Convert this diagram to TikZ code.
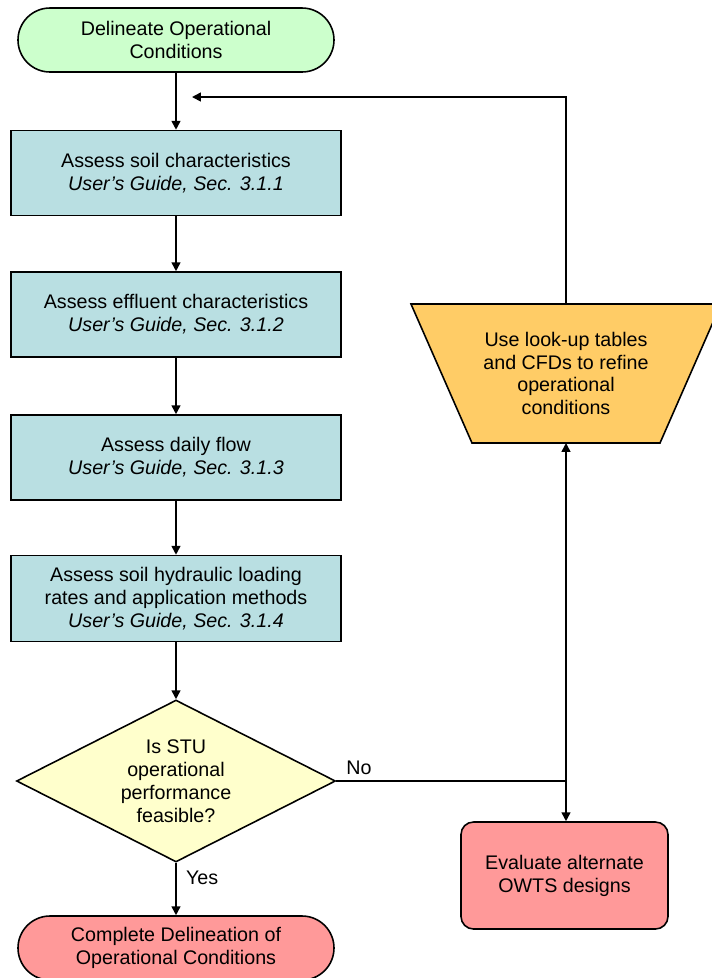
\documentclass[tikz,border=0pt]{standalone}
\usepackage{fontspec}
\setmainfont{Liberation Sans}
\usepackage{xcolor}
\usepackage{tikz}
\usetikzlibrary{arrows.meta,shapes.geometric}
\definecolor{xanhla}{RGB}{204,255,204}
\definecolor{xanhnhat}{RGB}{185,223,226}
\definecolor{vangnhat}{RGB}{255,255,204}
\definecolor{cam}{RGB}{255,204,102}
\definecolor{hong}{RGB}{255,153,153}

\begin{document}
\begin{tikzpicture}[>={Triangle[length=5pt,width=5pt]}, line width=0.9pt,
	font=\fontsize{11.2}{13}\selectfont,
	buoc/.style={draw, fill=xanhnhat, minimum width=6.6cm, minimum height=1.7cm, align=center},
	dau/.style={draw, rounded corners=0.64cm, minimum width=6.32cm, minimum height=1.28cm, align=center}]
			\useasboundingbox (0,0) rectangle (14.22,-19.56);
			% Các khối chính
			\node[dau, fill=xanhla] (batdau) at (3.52,-0.80) {Delineate Operational\\Conditions};
			\node[buoc] (dat) at (3.52,-3.46) {Assess soil characteristics\\\textit{User’s Guide, Sec. 3.1.1}};
			\node[buoc] (nuocthai) at (3.52,-6.29) {Assess effluent characteristics\\\textit{User’s Guide, Sec. 3.1.2}};
			\node[buoc] (luuluong) at (3.52,-9.15) {Assess daily flow\\\textit{User’s Guide, Sec. 3.1.3}};
			\node[buoc, minimum height=1.72cm] (taitrong) at (3.52,-11.97) {Assess soil hydraulic loading\\rates and application methods\\\textit{User’s Guide, Sec. 3.1.4}};
			% Khối quyết định
			\node[diamond, draw, fill=vangnhat, minimum width=6.38cm, minimum height=3.24cm, inner sep=0pt] (quyetdinh) at (3.52,-15.62) {};
			\node[align=center] (quyetdinhchu) at (quyetdinh) {Is STU\\operational\\performance\\feasible?};
			\node[dau, fill=hong] (ketthuc) at (3.52,-18.96) {Complete Delineation of\\Operational Conditions};
			% Nhánh bên phải (hình thang)
			\draw[fill=cam] (8.22,-6.08) -- (14.42,-6.08) -- (13.20,-8.86) -- (9.44,-8.86) -- cycle;
			\coordinate (tinhchinhtren) at (11.32,-6.08);
			\coordinate (tinhchinhduoi) at (11.32,-8.86);
			\node[align=center] (tinhchinh) at (11.32,-7.47) {Use look-up tables\\and CFDs to refine\\operational\\conditions};
			\node[draw, fill=hong, rounded corners=0.25cm, minimum width=4.14cm, minimum height=2.14cm, align=center] (thaythe) at (11.29,-17.51) {Evaluate alternate\\OWTS designs};
			\coordinate (nga) at (11.32,-15.62);
			\coordinate (quaylai) at (3.84,-1.94);
			% Mũi tên
			\foreach \a/\b in {batdau/dat, dat/nuocthai, nuocthai/luuluong, luuluong/taitrong, taitrong/quyetdinh}
			\draw[->] (\a) -- (\b);
			\draw[->] (quyetdinh.south) -- node[right, pos=0.28, xshift=2pt] {Yes} (ketthuc.north);
			\draw (quyetdinh.east) -- node[pos=0, above right, xshift=2pt] {No} (nga);
			\draw[->] (nga) -- (tinhchinhduoi);
			\draw[->] (nga) -- (nga |- thaythe.north);
			\draw[->] (tinhchinhtren) |- (quaylai);
		\end{tikzpicture}
\end{document}
